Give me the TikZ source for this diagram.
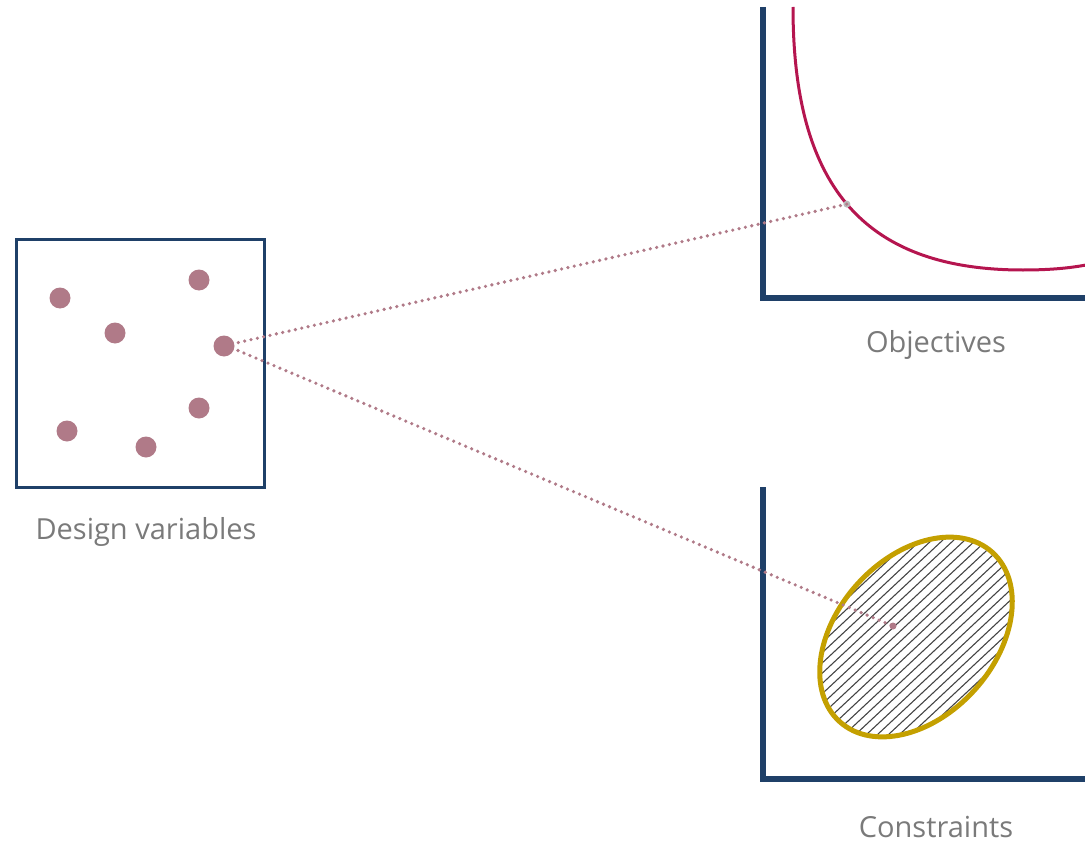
\documentclass[tikz,border=0pt]{standalone}
\usepackage{fontspec}
\setmainfont{Open Sans}
\usetikzlibrary{calc}
\definecolor{navy}{HTML}{1F4068}
\definecolor{mauve}{HTML}{B07A88}
\definecolor{crimson}{HTML}{B5154F}
\definecolor{gold}{HTML}{C4A000}
\definecolor{labelgrey}{HTML}{7A7A7A}
\definecolor{hatchgrey}{HTML}{444444}
\tikzset{
  dotnode/.style={circle, fill=mauve, minimum size=21pt, inner sep=0pt},
  endnode/.style={circle, fill=#1, minimum size=7pt, inner sep=0pt},
  axisline/.style={draw=navy, line width=6pt},
  linkline/.style={draw=mauve, line width=3.6pt, line cap=round, dash pattern=on 0pt off 6.5pt},
  caption/.style={text=labelgrey, font=\fontsize{29}{34}\selectfont},
  hatchline/.style={draw=hatchgrey, line width=1.1pt}
}
\begin{document}
\begin{tikzpicture}[x=1pt,y=-1pt]
\useasboundingbox (0,0) rectangle (1085,843);
% design variables box
\node[draw=navy, line width=3pt, minimum width=248pt, minimum height=248pt, inner sep=0pt] (box) at (140,363) {};
\node[dotnode] (d1) at (60,298) {};
\node[dotnode] (d2) at (115,333) {};
\node[dotnode] (d3) at (199,280) {};
\node[dotnode] (d4) at (224,346) {};
\node[dotnode] (d5) at (199,408) {};
\node[dotnode] (d6) at (67,431) {};
\node[dotnode] (d7) at (146,447) {};
\node[caption] (dvl) at (146,532) {Design variables};
% objectives
\draw[axisline] (763,7) -- (763,298) -- (1085,298);
\draw[crimson, line width=3pt] (793,7) .. controls (793,182) and (860,270) .. coordinate[pos=0.5] (opt) (1023,270)
  .. controls (1050,270) and (1070,268) .. (1086,265);
\node[caption] (objl) at (936,345) {Objectives};
% constraints
\draw[axisline] (763,487) -- (763,779) -- (1085,779);
\begin{scope}
  \clip[rotate around={48:(916,637)}] (916,637) ellipse [x radius=114pt, y radius=79pt];
  \foreach \i in {-24,...,24} {
    \draw[hatchline] ({916+\i*11-150},{637+140}) -- ({916+\i*11+150},{637-140});
  }
\end{scope}
\draw[gold, line width=5pt, rotate around={48:(916,637)}] (916,637) ellipse [x radius=114pt, y radius=79pt];
\node[caption] (conl) at (936,827) {Constraints};
% links
\node[endnode=gray!55] (oe) at (opt) {};
\node[endnode=mauve] (ce) at (893,626) {};
\draw[linkline] (d4.center) ++(8,-2) -- (oe.center);
\draw[linkline] (d4.center) ++(8,2) -- (ce.center);
\end{tikzpicture}
\end{document}
